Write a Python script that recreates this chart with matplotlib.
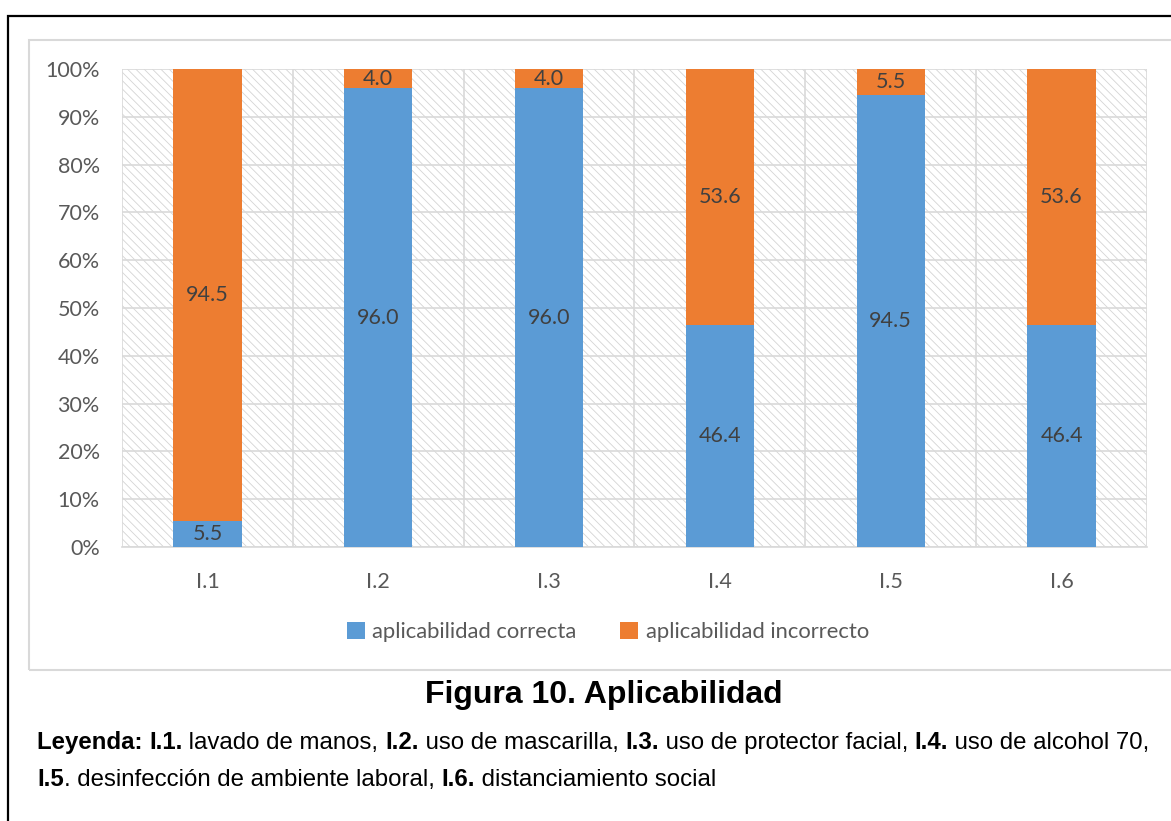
import matplotlib.pyplot as plt
from matplotlib.patches import Rectangle
from matplotlib.ticker import FixedLocator

categorias = ["I.1", "I.2", "I.3", "I.4", "I.5", "I.6"]
correcta = [5.5, 96.0, 96.0, 46.4, 94.5, 46.4]
incorrecta = [94.5, 4.0, 4.0, 53.6, 5.5, 53.6]
series = ["aplicabilidad correcta", "aplicabilidad incorrecto"]

AZUL = "#5B9BD5"
NARANJA = "#ED7D31"
GRIS_TXT = "#595959"
GRID = "#D9D9D9"
FS = 15.5

plt.rcParams["hatch.linewidth"] = 0.6
plt.rcParams["hatch.color"] = "#D4D4D4"

W, H = 1171, 821
fig = plt.figure(figsize=(W / 100, H / 100), dpi=100)

# marco negro exterior y caja gris del grafico (coordenadas en pixeles)
fig.add_artist(Rectangle((8 / W, 1 - 830 / H), 1200 / W, 814 / H, transform=fig.transFigure,
                         fill=False, edgecolor="black", linewidth=1.6))
fig.add_artist(Rectangle((29 / W, 1 - 670 / H), 1200 / W, 630 / H, transform=fig.transFigure,
                         fill=False, edgecolor=GRID, linewidth=1.5))

ax = fig.add_axes([122 / W, 1 - 547 / H, 1025 / W, 478 / H])
ax.add_patch(Rectangle((0, 0), 1, 1, transform=ax.transAxes, facecolor="white",
                       hatch="\\\\\\\\", edgecolor="#D4D4D4", linewidth=0, zorder=0))

x = list(range(len(categorias)))
b1 = ax.bar(x, correcta, width=0.4, color=AZUL, label=series[0], zorder=3)
b2 = ax.bar(x, incorrecta, width=0.4, bottom=correcta, color=NARANJA, label=series[1], zorder=3)

for bars, vals, bases in [(b1, correcta, [0] * 6), (b2, incorrecta, correcta)]:
    for rect, v, b in zip(bars, vals, bases):
        ax.text(rect.get_x() + rect.get_width() / 2, b + v / 2, f"{v:.1f}",
                ha="center", va="center", fontsize=FS, color="#404040",
                family="Lato", zorder=4)

ax.set_xlim(-0.5, len(categorias) - 0.5)
ax.set_ylim(0, 100)
ax.set_yticks(range(0, 101, 10))
ax.set_yticklabels([f"{v}%" for v in range(0, 101, 10)])
ax.set_xticks(x)
ax.set_xticklabels(categorias)
ax.xaxis.set_minor_locator(FixedLocator([i + 0.5 for i in range(-1, len(categorias))]))
ax.grid(True, which="major", axis="y", color=GRID, linewidth=1.2, zorder=1)
ax.grid(True, which="minor", axis="x", color=GRID, linewidth=1.2, zorder=1)
ax.set_axisbelow(True)
for s in ["top", "right", "left"]:
    ax.spines[s].set_visible(False)
ax.spines["bottom"].set_color(GRID)
ax.spines["bottom"].set_linewidth(1.2)
ax.tick_params(axis="both", which="both", length=0, colors=GRIS_TXT, labelsize=FS)
ax.tick_params(axis="y", pad=16)
ax.tick_params(axis="x", pad=18)
for lab in ax.get_xticklabels() + ax.get_yticklabels():
    lab.set_family("Lato")

fig.legend(handles=[b1, b2], labels=series, loc="center", bbox_to_anchor=(608 / W, 1 - 632 / H),
           ncol=2, frameon=False, handlelength=0.8, handleheight=0.8, handletextpad=0.35,
           columnspacing=2.0, prop={"family": "Lato", "size": 15.8}, labelcolor=GRIS_TXT)

fig.text(604 / W, 1 - 695 / H, "Figura 10. Aplicabilidad", ha="center", va="center",
         fontsize=23, fontweight="bold", family="Liberation Sans")

# leyenda del pie con tramos en negrita y normales
lineas = [
    [("Leyenda: ", True), ("I.1.", True), (" lavado de manos, ", False), ("I.2.", True),
     (" uso de mascarilla, ", False), ("I.3.", True), (" uso de protector facial, ", False),
     ("I.4.", True), (" uso de alcohol 70,", False)],
    [("I.5", True), (". desinfección de ambiente laboral, ", False), ("I.6.", True),
     (" distanciamiento social", False)],
]
renderer = fig.canvas.get_renderer()
for yp, partes in zip([749, 786], lineas):
    xp = 37
    for txt, bold in partes:
        t = fig.text(xp / W, 1 - yp / H, txt, fontsize=17.3, family="Liberation Sans",
                     fontweight="bold" if bold else "normal", va="baseline", ha="left")
        xp += t.get_window_extent(renderer).width

fig.savefig("out.png", dpi=100)
